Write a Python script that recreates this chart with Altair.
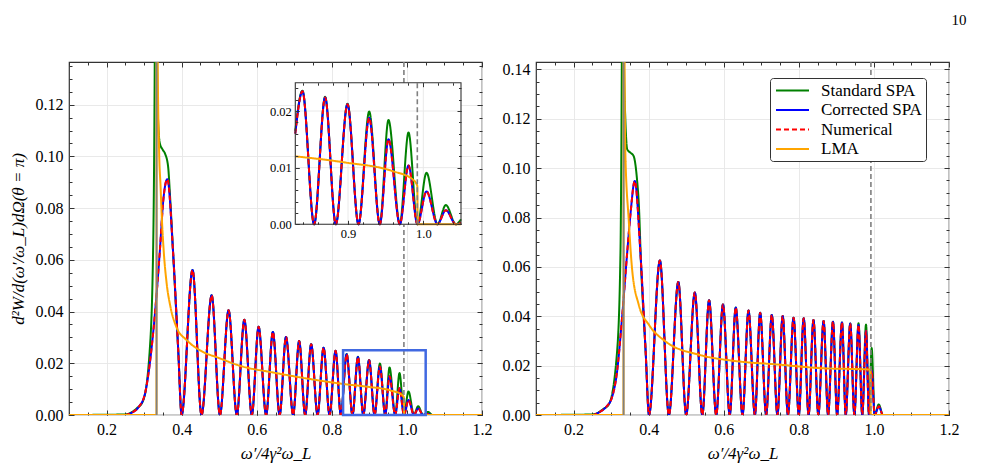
import altair as alt
import pandas as pd

FONT = "Liberation Serif"

# ---------------- data ----------------
SERIES = ["Standard SPA", "Corrected SPA", "Numerical", "LMA"]
SERIES_COLORS = ["#008000", "#0000ff", "#ff0000", "#ffa500"]
SERIES_DASHES = [[1, 0], [1, 0], [5, 3], [1, 0]]

X_DOMAIN = [0.1, 1.2]
X_MAJOR = [0.2, 0.4, 0.6, 0.8, 1.0, 1.2]
X_MINOR = [0.1, 0.15, 0.2, 0.25, 0.3, 0.35, 0.4, 0.45, 0.5, 0.55, 0.6, 0.65,
           0.7, 0.75, 0.8, 0.85, 0.9, 0.95, 1.0, 1.05, 1.1, 1.15, 1.2]

LEFT_Y_DOMAIN = [0.0, 0.1365]
LEFT_Y_MAJOR = [0.0, 0.02, 0.04, 0.06, 0.08, 0.10, 0.12]
LEFT_Y_MINOR = [0.0, 0.005, 0.01, 0.015, 0.02, 0.025, 0.03, 0.035, 0.04, 0.045,
                0.05, 0.055, 0.06, 0.065, 0.07, 0.075, 0.08, 0.085, 0.09, 0.095,
                0.1, 0.105, 0.11, 0.115, 0.12, 0.125, 0.13, 0.135]
RIGHT_Y_DOMAIN = [0.0, 0.143]
RIGHT_Y_MAJOR = [0.0, 0.02, 0.04, 0.06, 0.08, 0.10, 0.12, 0.14]
RIGHT_Y_MINOR = LEFT_Y_MINOR + [0.14]

THRESHOLD_X = 0.3333   # solid gray line
EDGE_X = 0.992         # dashed gray line

# left panel
L_STD_X = [0.100, 0.250, 0.266, 0.280, 0.297, 0.315, 0.324, 0.3285, 0.3315, 0.3345,
           0.337, 0.342, 0.350, 0.356, 0.364, 0.369, 0.377, 0.391, 0.400, 0.429,
           0.453, 0.480, 0.502, 0.525, 0.547, 0.567, 0.587, 0.605, 0.625, 0.643,
           0.661, 0.678, 0.697, 0.713, 0.729, 0.745, 0.762, 0.778, 0.794, 0.810,
           0.824, 0.8395, 0.855, 0.8696, 0.8838, 0.8993, 0.9139, 0.9281, 0.9422, 0.9537,
           0.9688, 0.9803, 0.9922, 1.0042, 1.0188, 1.0299, 1.0432, 1.056, 1.068, 1.200]
L_STD_Y = [0, 0.0002, 0.001, 0.0025, 0.0054, 0.025, 0.0635, 0.14, 0.25, 0.14,
           0.115, 0.105, 0.1025, 0.101, 0.096, 0.085, 0.0635, 0.0248, 0, 0.0561,
           0, 0.0463, 0, 0.0405, 0, 0.0368, 0, 0.0341, 0, 0.0321,
           0, 0.0302, 0, 0.0286, 0, 0.0274, 0, 0.0260, 0, 0.0248,
           0, 0.0236, 0, 0.0225, 0, 0.0213, 0, 0.0199, 0, 0.0184,
           0, 0.0162, 0, 0.0091, 0, 0.0034, 0, 0.0012, 0, 0]
L_CORR_X = [0.100, 0.250, 0.266, 0.285, 0.302, 0.315, 0.328, 0.342, 0.351, 0.362,
            0.377, 0.391, 0.400, 0.429, 0.453, 0.480, 0.502, 0.525, 0.547, 0.567,
            0.587, 0.605, 0.625, 0.643, 0.661, 0.678, 0.697, 0.713, 0.729, 0.745,
            0.762, 0.778, 0.794, 0.810, 0.824, 0.8395, 0.855, 0.8696, 0.8838, 0.8993,
            0.9139, 0.9281, 0.9422, 0.9537, 0.9688, 0.9803, 0.9922, 1.0042, 1.0188, 1.0299,
            1.0432, 1.056, 1.068, 1.200]
L_CORR_Y = [0, 0, 0.0008, 0.003, 0.008, 0.0197, 0.0377, 0.0635, 0.0828, 0.0912,
            0.0635, 0.0248, 0, 0.0561, 0, 0.0463, 0, 0.0405, 0, 0.0368,
            0, 0.0341, 0, 0.0321, 0, 0.0302, 0, 0.0286, 0, 0.0274,
            0, 0.0260, 0, 0.0248, 0, 0.0235, 0, 0.0224, 0, 0.0212,
            0, 0.0188, 0, 0.0150, 0, 0.0104, 0, 0.0058, 0, 0.0025,
            0, 0.0004, 0, 0]
L_NUM_X = L_CORR_X
L_NUM_Y = L_CORR_Y
L_LMA_X = [0.100, 0.3330, 0.3334, 0.336, 0.340, 0.344, 0.347, 0.352, 0.360, 0.370,
           0.386, 0.413, 0.449, 0.500, 0.556, 0.645, 0.734, 0.836, 0.897, 0.959,
           0.986, 0.992, 0.9925, 1.200]
L_LMA_Y = [0, 0, 0.30, 0.14, 0.102, 0.088, 0.077, 0.064, 0.051, 0.042,
           0.034, 0.029, 0.025, 0.022, 0.019, 0.0164, 0.0141, 0.0119, 0.0109, 0.0094,
           0.0079, 0.0068, 0, 0]

# zoom box / inset
ZOOM_X = [0.83, 1.05]
ZOOM_Y = [0.0, 0.025]
INSET_X_MAJOR = [0.9, 1.0]
INSET_X_MINOR = [0.84, 0.86, 0.88, 0.9, 0.92, 0.94, 0.96, 0.98, 1.0, 1.02, 1.04]
INSET_Y_MAJOR = [0.0, 0.01, 0.02]
INSET_Y_MINOR = [0.0, 0.002, 0.004, 0.006, 0.008, 0.01, 0.012, 0.014, 0.016,
                 0.018, 0.02, 0.022, 0.024]
I_X = [0.830, 0.8395, 0.855, 0.8696, 0.8838, 0.8993, 0.9139, 0.9281, 0.9422,
       0.9537, 0.9688, 0.9803, 0.9922, 1.0042, 1.0188, 1.0299, 1.0432, 1.050]
I_STD_Y = [0.0165, 0.0236, 0, 0.0225, 0, 0.0213, 0, 0.0199, 0,
           0.0184, 0, 0.0162, 0, 0.0091, 0, 0.0034, 0, 0.0009]
I_CORR_Y = [0.016, 0.0235, 0, 0.0224, 0, 0.0212, 0, 0.0188, 0,
            0.0150, 0, 0.0104, 0, 0.0058, 0, 0.0025, 0, 0.0003]
I_NUM_Y = I_CORR_Y
I_LMA_X = [0.830, 0.897, 0.959, 0.986, 0.992, 0.9925, 1.050]
I_LMA_Y = [0.0120, 0.0109, 0.0094, 0.0079, 0.0068, 0, 0]

# right panel
R_STD_X = [0.100, 0.250, 0.266, 0.280, 0.294, 0.316, 0.325, 0.3285, 0.3315, 0.3345,
           0.338, 0.343, 0.352, 0.360, 0.369, 0.374, 0.380, 0.392, 0.401, 0.430,
           0.454, 0.479, 0.500, 0.523, 0.543, 0.561, 0.580, 0.598, 0.616, 0.632,
           0.650, 0.666, 0.683, 0.697, 0.713, 0.728, 0.743, 0.757, 0.771, 0.786,
           0.800, 0.813, 0.826, 0.839, 0.852, 0.866, 0.878, 0.891, 0.902, 0.915,
           0.925, 0.937, 0.948, 0.959, 0.969, 0.979, 0.987, 0.994, 1.002, 1.013,
           1.024, 1.040, 1.200]
R_STD_Y = [0, 0.0002, 0.001, 0.0025, 0.0043, 0.0258, 0.066, 0.14, 0.25, 0.14,
           0.1196, 0.1076, 0.1062, 0.1049, 0.0955, 0.085, 0.060, 0.0258, 0, 0.0626,
           0, 0.0539, 0, 0.0496, 0, 0.0465, 0, 0.0448, 0, 0.0435,
           0, 0.0423, 0, 0.0414, 0, 0.0405, 0, 0.0401, 0, 0.0394,
           0, 0.0392, 0, 0.0385, 0, 0.0381, 0, 0.0378, 0, 0.0375,
           0, 0.0371, 0, 0.0372, 0, 0.0367, 0, 0.0271, 0, 0.0043,
           0, 0, 0]
R_CORR_X = [0.100, 0.250, 0.267, 0.285, 0.302, 0.316, 0.329, 0.343, 0.352, 0.363,
            0.378, 0.392, 0.401, 0.430, 0.454, 0.479, 0.500, 0.523, 0.543, 0.561,
            0.580, 0.598, 0.616, 0.632, 0.650, 0.666, 0.683, 0.697, 0.713, 0.728,
            0.743, 0.757, 0.771, 0.786, 0.800, 0.813, 0.826, 0.839, 0.852, 0.866,
            0.878, 0.891, 0.902, 0.915, 0.925, 0.937, 0.948, 0.959, 0.969, 0.979,
            0.987, 0.994, 1.002, 1.013, 1.024, 1.040, 1.200]
R_CORR_Y = [0, 0, 0.001, 0.003, 0.007, 0.0177, 0.039, 0.066, 0.082, 0.0948,
            0.066, 0.0258, 0, 0.0626, 0, 0.0539, 0, 0.0496, 0, 0.0465,
            0, 0.0448, 0, 0.0435, 0, 0.0423, 0, 0.0414, 0, 0.0405,
            0, 0.0401, 0, 0.0394, 0, 0.0392, 0, 0.0385, 0, 0.0381,
            0, 0.0378, 0, 0.0375, 0, 0.0371, 0, 0.0365, 0, 0.0340,
            0, 0.0180, 0, 0.0035, 0, 0, 0]
R_NUM_X = R_CORR_X
R_NUM_Y = R_CORR_Y
R_LMA_X = [0.100, 0.3330, 0.3334, 0.336, 0.338, 0.347, 0.356, 0.374, 0.401, 0.445,
           0.534, 0.623, 0.748, 0.855, 0.991, 0.9915, 1.200]
R_LMA_Y = [0, 0, 0.30, 0.14, 0.106, 0.079, 0.059, 0.0445, 0.0365, 0.0298,
           0.0244, 0.022, 0.0204, 0.019, 0.0184, 0, 0]

X_TITLE = "ω′/4γ²ω_L"
Y_TITLE = "d²W/d(ω′/ω_L)dΩ(θ = π)"
PAGE_NUMBER = "10"

# ---------------- layout / style ----------------
W, H = 413, 353
INSET_RANGE_X = [226.3, 392.0]
INSET_RANGE_Y = [162.3, 20.7]
MAJ, MIN = 5, 3
IMAJ, IMIN = 4, 2.5
TICK_COLOR = "#333333"
GRID_COLOR = "#e6e6e6"
GRAY = "#808080"
ONE = pd.DataFrame({"k": [0]})


def build_df(xs_list, ys_list):
    frames = []
    for name, xs, ys in zip(SERIES, xs_list, ys_list):
        assert len(xs) == len(ys), name
        frames.append(pd.DataFrame({"series": name, "x": xs, "y": ys}))
    return pd.concat(frames, ignore_index=True)


def qscale(domain, rng=None):
    if rng is None:
        return alt.Scale(domain=domain, nice=False, zero=False)
    return alt.Scale(domain=domain, range=rng, nice=False, zero=False)


def axis(orient, values, tick, offset, labels=False, fmt=".2f", grid=False,
         title=None, size=16, pad=6, z=0):
    kw = dict(orient=orient, values=values, tickSize=tick, offset=offset,
              domain=False, ticks=True, tickColor=TICK_COLOR, tickWidth=1,
              labels=labels, grid=grid, zindex=z, title=title)
    if labels:
        kw.update(format=fmt, labelFont=FONT, labelFontSize=size, labelColor="black",
                  labelPadding=pad, labelFlush=False, labelOverlap=False)
    if grid:
        kw.update(gridColor=GRID_COLOR, gridWidth=0.9)
    if title is not None:
        kw.update(titleFont=FONT, titleFontSize=17, titleFontStyle="italic",
                  titleFontWeight="normal", titleColor="black", titlePadding=8)
    return alt.Axis(**kw)


def axis_layer(xd, yd, xs, ys, xaxis, yaxis):
    return alt.Chart(ONE).mark_point(opacity=0).encode(
        x=alt.X(datum=xd[0], type="quantitative", scale=xs, axis=xaxis),
        y=alt.Y(datum=yd[0], type="quantitative", scale=ys, axis=yaxis),
    )


def series_layer(df, xs, ys, legend):
    return alt.Chart(df).mark_line(interpolate="monotone", clip=True, strokeWidth=2).encode(
        x=alt.X("x:Q", scale=xs, axis=None),
        y=alt.Y("y:Q", scale=ys, axis=None),
        color=alt.Color("series:N", scale=alt.Scale(domain=SERIES, range=SERIES_COLORS),
                        legend=legend),
        strokeDash=alt.StrokeDash("series:N",
                                  scale=alt.Scale(domain=SERIES, range=SERIES_DASHES),
                                  legend=legend),
    )


def vline(v, xs, dashed):
    kw = dict(color=GRAY, strokeWidth=1.8)
    if dashed:
        kw["strokeDash"] = [5, 3]
        kw["strokeWidth"] = 1.6
    return alt.Chart(ONE).mark_rule(**kw).encode(
        x=alt.X(datum=v, type="quantitative", scale=xs, axis=None))


def main_layers(df, y_domain, y_major, y_minor, legend, y_title):
    xs = qscale(X_DOMAIN)
    ys = qscale(y_domain)
    return xs, ys, [
        axis_layer(X_DOMAIN, y_domain, xs, ys,
                   axis("bottom", X_MAJOR, MAJ, -MAJ, labels=True, fmt=".1f", grid=True,
                        title=X_TITLE),
                   axis("left", y_major, MAJ, -MAJ, labels=True, fmt=".2f", grid=True,
                        title=y_title)),
        axis_layer(X_DOMAIN, y_domain, xs, ys,
                   axis("bottom", X_MINOR, MIN, -MIN), axis("left", y_minor, MIN, -MIN)),
        axis_layer(X_DOMAIN, y_domain, xs, ys,
                   axis("top", X_MAJOR, MAJ, -MAJ), axis("right", y_major, MAJ, -MAJ)),
        axis_layer(X_DOMAIN, y_domain, xs, ys,
                   axis("top", X_MINOR, MIN, -MIN), axis("right", y_minor, MIN, -MIN)),
        series_layer(df, xs, ys, legend),
        vline(THRESHOLD_X, xs, False),
        vline(EDGE_X, xs, True),
    ]


# ---- left panel ----
left_df = build_df([L_STD_X, L_CORR_X, L_NUM_X, L_LMA_X], [L_STD_Y, L_CORR_Y, L_NUM_Y, L_LMA_Y])
lxs, lys, left_layers = main_layers(left_df, LEFT_Y_DOMAIN, LEFT_Y_MAJOR, LEFT_Y_MINOR,
                                    None, Y_TITLE)

zoom_box = alt.Chart(ONE).mark_rect(filled=False, color="#4169e1", strokeWidth=2.5).encode(
    x=alt.X(datum=ZOOM_X[0], type="quantitative", scale=lxs, axis=None),
    x2=alt.X2(datum=ZOOM_X[1]),
    y=alt.Y(datum=ZOOM_Y[0], type="quantitative", scale=lys, axis=None),
    y2=alt.Y2(datum=ZOOM_Y[1]),
)

ixs = qscale(ZOOM_X, INSET_RANGE_X)
iys = qscale(ZOOM_Y, INSET_RANGE_Y)


def inset_rect(**mark_kw):
    return alt.Chart(ONE).mark_rect(**mark_kw).encode(
        x=alt.X(datum=ZOOM_X[0], type="quantitative", scale=ixs, axis=None),
        x2=alt.X2(datum=ZOOM_X[1]),
        y=alt.Y(datum=ZOOM_Y[0], type="quantitative", scale=iys, axis=None),
        y2=alt.Y2(datum=ZOOM_Y[1]),
    )


inset_bg = inset_rect(color="white")
inset_vgrid = alt.Chart(pd.DataFrame({"x": INSET_X_MAJOR})).mark_rule(
    color=GRID_COLOR, strokeWidth=0.9).encode(
    x=alt.X("x:Q", scale=ixs, axis=None),
    y=alt.Y(datum=ZOOM_Y[0], type="quantitative", scale=iys, axis=None),
    y2=alt.Y2(datum=ZOOM_Y[1]),
)
inset_hgrid = alt.Chart(pd.DataFrame({"y": INSET_Y_MAJOR})).mark_rule(
    color=GRID_COLOR, strokeWidth=0.9).encode(
    y=alt.Y("y:Q", scale=iys, axis=None),
    x=alt.X(datum=ZOOM_X[0], type="quantitative", scale=ixs, axis=None),
    x2=alt.X2(datum=ZOOM_X[1]),
)
inset_df = build_df([I_X, I_X, I_X, I_LMA_X], [I_STD_Y, I_CORR_Y, I_NUM_Y, I_LMA_Y])
inset_series = series_layer(inset_df, ixs, iys, None)
inset_edge = alt.Chart(ONE).mark_rule(color=GRAY, strokeWidth=1.6, strokeDash=[5, 3]).encode(
    x=alt.X(datum=EDGE_X, type="quantitative", scale=ixs, axis=None),
    y=alt.Y(datum=ZOOM_Y[0], type="quantitative", scale=iys, axis=None),
    y2=alt.Y2(datum=ZOOM_Y[1]),
)
inset_frame = inset_rect(filled=False, color=TICK_COLOR, strokeWidth=1.1)

ib = INSET_RANGE_Y[0]
it = INSET_RANGE_Y[1]
il = INSET_RANGE_X[0]
ir = INSET_RANGE_X[1]
inset_axes = [
    axis_layer(ZOOM_X, ZOOM_Y, ixs, iys,
               axis("bottom", INSET_X_MAJOR, IMAJ, ib - IMAJ - H, labels=True, fmt=".1f",
                    size=12.5, pad=3, z=1),
               axis("left", INSET_Y_MAJOR, IMAJ, -(il + IMAJ), labels=True, fmt=".2f",
                    size=12.5, pad=4, z=1)),
    axis_layer(ZOOM_X, ZOOM_Y, ixs, iys,
               axis("bottom", INSET_X_MINOR, IMIN, ib - IMIN - H, z=1),
               axis("left", INSET_Y_MINOR, IMIN, -(il + IMIN), z=1)),
    axis_layer(ZOOM_X, ZOOM_Y, ixs, iys,
               axis("top", INSET_X_MAJOR, IMAJ, -(it + IMAJ), z=1),
               axis("right", INSET_Y_MAJOR, IMAJ, ir - IMAJ - W, z=1)),
    axis_layer(ZOOM_X, ZOOM_Y, ixs, iys,
               axis("top", INSET_X_MINOR, IMIN, -(it + IMIN), z=1),
               axis("right", INSET_Y_MINOR, IMIN, ir - IMIN - W, z=1)),
]

left = alt.layer(
    *left_layers, zoom_box, inset_bg, inset_vgrid, inset_hgrid, inset_series,
    inset_edge, inset_frame, *inset_axes
).resolve_scale(x="independent", y="independent").properties(width=W, height=H)

# ---- right panel ----
legend = alt.Legend(
    title=None, orient="none", legendX=234, legendY=16,
    symbolType="M-2.2,0H2.2", symbolSize=225, symbolOffset=10, symbolStrokeWidth=2,
    labelFont=FONT, labelFontSize=17, labelColor="black", labelOffset=20,
    fillColor="white", strokeColor="#333333", cornerRadius=3, padding=4, rowPadding=1.5,
)
right_df = build_df([R_STD_X, R_CORR_X, R_NUM_X, R_LMA_X], [R_STD_Y, R_CORR_Y, R_NUM_Y, R_LMA_Y])
_, _, right_layers = main_layers(right_df, RIGHT_Y_DOMAIN, RIGHT_Y_MAJOR, RIGHT_Y_MINOR,
                                 legend, None)
right = alt.layer(*right_layers).resolve_scale(
    x="independent", y="independent").properties(width=W, height=H)

chart = alt.hconcat(left, right, spacing=8).resolve_scale(
    color="independent", strokeDash="independent"
).properties(
    title=alt.TitleParams(text=PAGE_NUMBER, anchor="end", font=FONT, fontSize=15,
                          fontWeight="normal", color="black", offset=33, dx=7),
    padding={"left": 8, "top": 12, "right": 5, "bottom": 5},
    background="white",
).configure_view(stroke="#333333", strokeWidth=1.2)

chart.save("out.html", embed_options={"renderer": "svg", "actions": False})
